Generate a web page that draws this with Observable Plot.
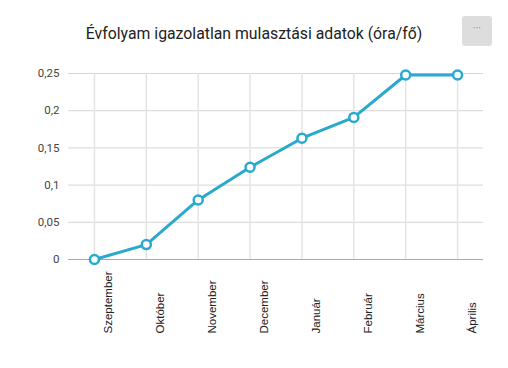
<!DOCTYPE html>
<html><head><meta charset="utf-8">
<script src="https://cdn.jsdelivr.net/npm/d3@7"></script>
<script src="https://cdn.jsdelivr.net/npm/@observablehq/plot@0.6"></script>
<style>
html,body{margin:0;padding:0;background:#fff;}
#wrap{position:relative;width:508px;height:368px;overflow:hidden;font-family:Roboto,"Liberation Sans",sans-serif;}
#title{position:absolute;left:0;width:508px;top:24px;text-align:center;font-size:15.8px;color:#222;}
#menu{position:absolute;left:462px;top:16px;width:30px;height:30px;background:#ddd;border-radius:3px;color:#888;font-size:10px;text-align:center;line-height:26px;}
</style></head>
<body><div id="wrap"><div id="chart"></div><div id="title">Évfolyam igazolatlan mulasztási adatok (óra/fő)</div><div id="menu">···</div></div>
<script>
const months = ["Szeptember","Október","November","December","Január","Február","Március","Április"];
const values = [0, 0.020, 0.080, 0.124, 0.163, 0.191, 0.248, 0.248];
const yTicks = [0, 0.05, 0.1, 0.15, 0.2, 0.25];

const data = months.map((m, i) => ({month: m, value: values[i]}));
const color = "#2aa9cf";

const chart = Plot.plot({
  width: 508,
  height: 368,
  marginLeft: 68,
  marginRight: 25,
  marginTop: 73,
  marginBottom: 109,
  style: {fontFamily: "Roboto, 'Liberation Sans', sans-serif", background: "#fff"},
  x: {type: "point", domain: months, padding: 0.5, round: false, axis: null},
  y: {domain: [0, 0.25], axis: null},
  marks: [
    Plot.ruleY(yTicks.slice(1), {stroke: "#d6d6d6", strokeWidth: 1, strokeOpacity: 1}),
    Plot.ruleX(months, {x: d => d, y1: 0, y2: 0.25, stroke: "#e4e4e4", strokeWidth: 1.5, strokeOpacity: 1}),
    Plot.ruleY([0], {stroke: "#aaa", strokeWidth: 1}),
    Plot.text(yTicks, {y: d => d, text: d => String(d).replace(".", ","), frameAnchor: "left", textAnchor: "end", dx: -9, fontSize: 11.5, fill: "#444"}),
    Plot.text(months, {x: d => d, frameAnchor: "bottom", text: d => d, rotate: -90, textAnchor: "start", dx: 18, dy: 74, fontSize: 11.5, fontFamily: "'Liberation Sans', Arial, sans-serif", fill: "#222"}),
    Plot.line(data, {x: "month", y: "value", stroke: color, strokeWidth: 3}),
    Plot.dot(data, {x: "month", y: "value", r: 4.5, fill: "#fff", stroke: color, strokeWidth: 2.5})
  ]
});
document.getElementById("chart").appendChild(chart);
</script></body></html>
